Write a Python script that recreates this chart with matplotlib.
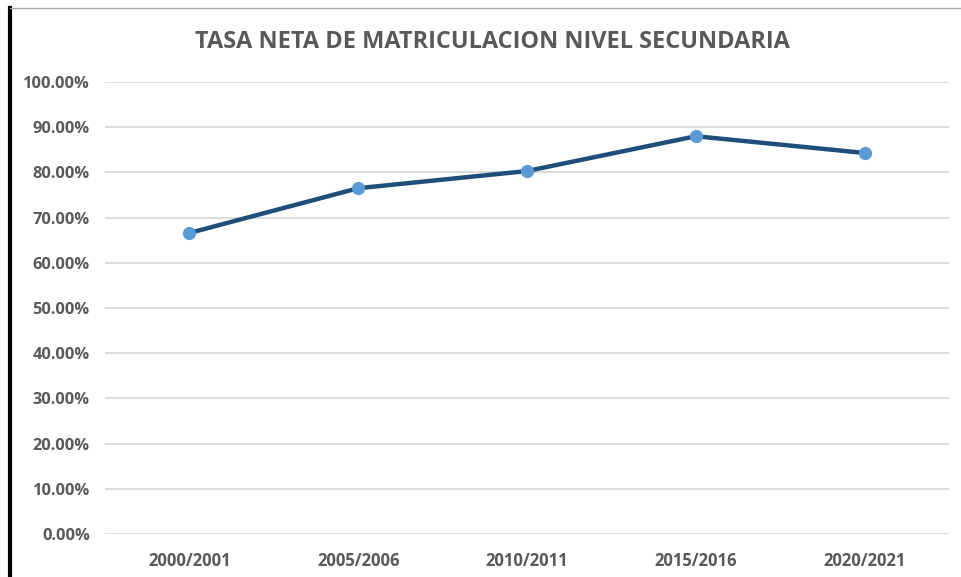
import matplotlib.pyplot as plt
from matplotlib.lines import Line2D
from matplotlib.ticker import FuncFormatter

# Data
periodos = ['2000/2001', '2005/2006', '2010/2011', '2015/2016', '2020/2021']
tasa = [66.6, 76.5, 80.3, 88.0, 84.3]
yticks = [0, 10, 20, 30, 40, 50, 60, 70, 80, 90, 100]

plt.rcParams['font.family'] = ['Open Sans', 'DejaVu Sans']

fig = plt.figure(figsize=(9.61, 5.77), dpi=100)
ax = fig.add_axes([0.1093, 0.0745, 0.8782, 0.7834])

x = list(range(len(periodos)))
ax.plot(x, tasa, color='#1F4E79', linewidth=3.2, marker='o', markersize=8.5,
        markerfacecolor='#5B9BD5', markeredgecolor='#5B9BD5', zorder=3)

ax.set_xlim(-0.5, len(periodos) - 0.5)
ax.set_ylim(0, 100)
ax.set_yticks(yticks)
ax.yaxis.set_major_formatter(FuncFormatter(lambda v, p: f'{v:.2f}%'))
ax.set_xticks(x)
ax.set_xticklabels(periodos)
ax.tick_params(axis='y', length=0, labelsize=11.8, labelcolor='#595959', pad=11)
ax.tick_params(axis='x', length=0, labelsize=12, labelcolor='#595959', pad=13)
for lbl in ax.get_xticklabels() + ax.get_yticklabels():
    lbl.set_fontweight('bold')

ax.grid(axis='y', color='#D9D9D9', linewidth=1.3)
ax.set_axisbelow(True)
for s in ax.spines.values():
    s.set_visible(False)

fig.text(0.512, 0.927, 'TASA NETA DE MATRICULACION NIVEL SECUNDARIA',
         ha='center', va='center', fontsize=16.9, fontweight='bold', color='#595959')

# frame edges
fig.add_artist(Line2D([0.0105, 0.0105], [0, 0.986], color='black', linewidth=3,
                      transform=fig.transFigure))
fig.add_artist(Line2D([0.0105, 1], [0.986, 0.986], color='#A6A6A6', linewidth=1,
                      transform=fig.transFigure))

fig.savefig('out.png', dpi=100)
